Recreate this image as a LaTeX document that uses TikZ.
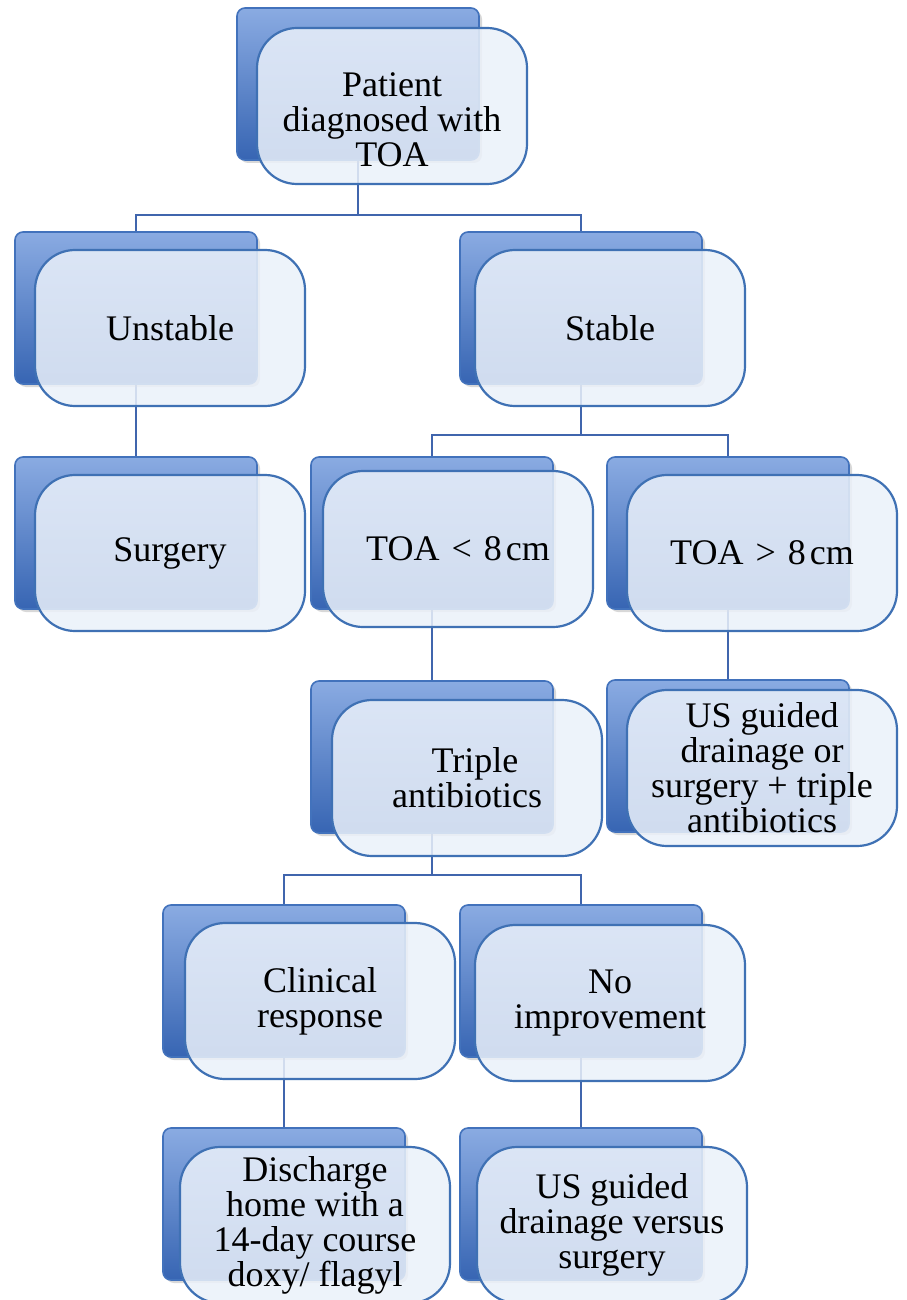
\documentclass[tikz,border=0pt]{standalone}
\usepackage{fontspec}
\setmainfont{Liberation Serif}
\usetikzlibrary{shadows,backgrounds}
\definecolor{backtop}{HTML}{8AABE2}
\definecolor{backbot}{HTML}{3765B3}
\definecolor{backline}{HTML}{4272BC}
\definecolor{frontfill}{HTML}{EBF1FA}
\definecolor{frontline}{HTML}{3F71B4}
\definecolor{connc}{HTML}{4065AD}
\tikzset{
  backbox/.style={draw=backline, line width=0.8pt, rounded corners=4pt,
    top color=backtop, bottom color=backbot,
    minimum width=121pt, minimum height=76pt, inner sep=0pt,
    drop shadow={opacity=0.3, shadow xshift=1.5pt, shadow yshift=-1.5pt}},
  frontbox/.style={draw=frontline, line width=1.1pt, rounded corners=20pt,
    fill=frontfill, fill opacity=0.85, text opacity=1,
    minimum width=135pt, minimum height=78pt, inner sep=0pt, align=center,
    font=\fontsize{18}{17.5}\selectfont},
  connline/.style={draw=connc, line width=1.1pt}
}
% name, back-left, back-top, front dx, front dy, text
\newcommand{\flowbox}[6]{%
  \node[backbox] (#1-b) at ({#2+121},{#3+76}) {};
  \node[frontbox] (#1) at ({#2+#4+135},{#3+#5+78}) {#6};
}
\begin{document}
\begin{tikzpicture}[x=0.5pt,y=-0.5pt]
\useasboundingbox (0,0) rectangle (906,1300);

\flowbox{p}{237}{8}{20}{20}{\rule{0pt}{26pt}Patient\\diagnosed with\\TOA}
\flowbox{un}{15}{232}{20}{18}{Unstable}
\flowbox{st}{460}{232}{15}{18}{Stable}
\flowbox{su}{15}{457}{20}{18}{Surgery}
\flowbox{ta}{311}{457}{12}{14}{TOA\hspace{6pt}<\hspace{6pt}8\hspace{2pt}cm}
\flowbox{tb}{607}{457}{20}{18}{TOA\hspace{6pt}>\hspace{6pt}8\hspace{2pt}cm}
\flowbox{tr}{311}{681}{21}{19}{\hspace{8pt}Triple\\antibiotics}
\flowbox{ua}{607}{680}{20}{10}{US guided\\drainage or\\surgery + triple\\antibiotics}
\flowbox{cl}{163}{905}{22}{18}{Clinical\\response}
\flowbox{ni}{460}{905}{15}{20}{No\\improvement}
\flowbox{dh}{163}{1128}{17}{19}{Discharge\\home with a\\14-day course\\doxy/ flagyl}
\flowbox{ub}{460}{1128}{17}{19}{US guided\\drainage versus\\surgery}

\coordinate (j1) at (0,215);
\coordinate (j2) at (0,435);
\coordinate (j3) at (0,875);

\begin{scope}[on background layer]
\fill[white] (0,0) rectangle (906,1300);
\draw[connline] (p-b.center) -- (p-b.center |- j1);
\draw[connline] (un-b.center) -- (un-b.center |- j1) -- (st-b.center |- j1) -- (st-b.center);
\draw[connline] (un-b.center) -- (su-b.center);
\draw[connline] (st-b.center) -- (st-b.center |- j2);
\draw[connline] (ta-b.center) -- (ta-b.center |- j2) -- (tb-b.center |- j2) -- (tb-b.center);
\draw[connline] (ta-b.center) -- (tr-b.center);
\draw[connline] (tb-b.center) -- (ua-b.center);
\draw[connline] (tr-b.center) -- (tr-b.center |- j3);
\draw[connline] (cl-b.center) -- (cl-b.center |- j3) -- (ni-b.center |- j3) -- (ni-b.center);
\draw[connline] (cl-b.center) -- (dh-b.center);
\draw[connline] (ni-b.center) -- (ub-b.center);
\end{scope}
\end{tikzpicture}
\end{document}
